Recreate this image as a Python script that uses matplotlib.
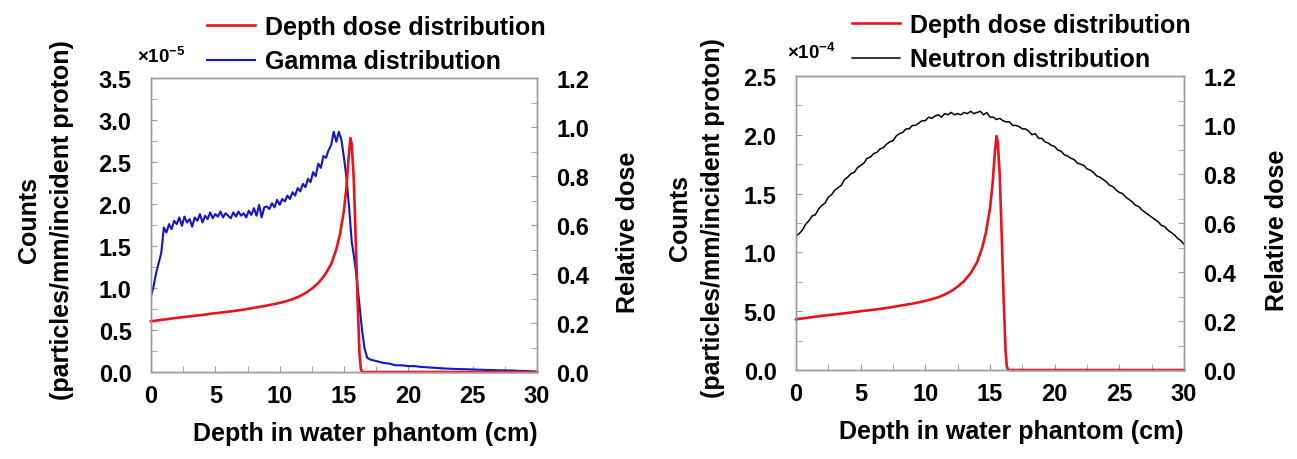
import numpy as np
import matplotlib.pyplot as plt
from matplotlib.ticker import MultipleLocator, FixedLocator, FixedFormatter

plt.rcParams['font.family'] = ['Liberation Sans', 'DejaVu Sans']
plt.rcParams['font.weight'] = 'bold'
plt.rcParams['axes.labelweight'] = 'bold'

# depth dose (relative dose), same curve in both panels
dose_x = [0, 1, 2, 3, 4, 5, 6, 7, 8, 9, 10, 10.5, 11, 11.5, 12, 12.5, 13, 13.5,
          14, 14.4, 14.7, 15.0, 15.2, 15.35, 15.5, 15.6, 15.75, 15.9, 16.05,
          16.2, 16.3, 16.4, 30]
dose_y = [0.207, 0.214, 0.221, 0.227, 0.233, 0.240, 0.246, 0.253, 0.262, 0.271,
          0.282, 0.289, 0.297, 0.308, 0.322, 0.340, 0.363, 0.395, 0.44, 0.50,
          0.565, 0.66, 0.76, 0.87, 0.955, 0.93, 0.80, 0.56, 0.30, 0.08, 0.015,
          0.0, 0.0]

# gamma counts (x1e-5 particles/mm/incident proton)
gamma_x = list(np.round(np.arange(0, 17.01, 0.2), 2)) + [
    17.5, 18, 18.5, 19, 19.5, 20, 20.5, 21, 21.5, 22, 22.5, 23, 24, 25, 26,
    27, 28, 29, 30]
gamma_y = [0.90, 1.02, 1.18, 1.30, 1.42, 1.72, 1.66, 1.76, 1.70, 1.80,
           1.76, 1.84, 1.74, 1.85, 1.78, 1.82, 1.73, 1.84, 1.80, 1.88,
           1.78, 1.86, 1.82, 1.90, 1.83, 1.88, 1.85, 1.91, 1.84, 1.89,
           1.86, 1.83, 1.90, 1.85, 1.91, 1.86, 1.89, 1.84, 1.92, 1.87,
           1.95, 1.86, 1.99, 1.84, 1.96, 1.97, 1.94, 2.01, 1.96, 2.05,
           1.99, 2.06, 2.03, 2.10, 2.06, 2.14, 2.10, 2.19, 2.15, 2.24,
           2.20, 2.30, 2.26, 2.38, 2.33, 2.48, 2.43, 2.57, 2.55, 2.64,
           2.70, 2.86, 2.74, 2.86, 2.76, 2.55, 2.30, 1.95, 1.55, 1.35,
           1.10, 0.80, 0.50, 0.28, 0.17, 0.15,
           0.13, 0.11, 0.10, 0.08, 0.08, 0.07, 0.07, 0.06, 0.055, 0.05,
           0.045, 0.04, 0.035, 0.03, 0.025, 0.02, 0.018, 0.012, 0.005]

# neutron counts (x1e-4 particles/mm/incident proton)
neutron_x = list(np.round(np.arange(0, 30.01, 0.25), 2))
neutron_y = [1.14, 1.16, 1.19, 1.24, 1.27, 1.31, 1.32, 1.37, 1.40, 1.42,
             1.47, 1.49, 1.53, 1.55, 1.57, 1.62, 1.64, 1.67, 1.68, 1.72,
             1.74, 1.76, 1.80, 1.81, 1.84, 1.85, 1.88, 1.89, 1.92, 1.94,
             1.95, 1.99, 2.01, 2.02, 2.05, 2.05, 2.08, 2.08, 2.10, 2.12,
             2.12, 2.15, 2.14, 2.16, 2.17, 2.15, 2.18, 2.17, 2.19, 2.17,
             2.18, 2.17, 2.19, 2.18, 2.20, 2.18, 2.19, 2.20, 2.17, 2.19,
             2.15, 2.15, 2.13, 2.14, 2.12, 2.11, 2.11, 2.08, 2.08, 2.07,
             2.05, 2.05, 2.03, 2.00, 2.01, 1.97, 1.97, 1.94, 1.93, 1.91,
             1.90, 1.87, 1.86, 1.83, 1.82, 1.80, 1.79, 1.76, 1.75, 1.74,
             1.71, 1.70, 1.68, 1.65, 1.64, 1.62, 1.60, 1.57, 1.56, 1.53,
             1.51, 1.50, 1.47, 1.45, 1.43, 1.40, 1.39, 1.36, 1.34, 1.32,
             1.30, 1.28, 1.26, 1.23, 1.22, 1.19, 1.17, 1.15, 1.12, 1.10,
             1.07]

left_ticks = [0, 0.5, 1, 1.5, 2, 2.5, 3, 3.5]
left_ticklabels = ['0.0', '0.5', '1.0', '1.5', '2.0', '2.5', '3.0', '3.5']
right_ticks = [0, 0.5, 1, 1.5, 2, 2.5]
right_ticklabels = ['0.0', '5.0', '1.0', '1.5', '2.0', '2.5']
dose_ticks = [0, 0.2, 0.4, 0.6, 0.8, 1.0, 1.2]
dose_ticklabels = ['0.0', '0.2', '0.4', '0.6', '0.8', '1.0', '1.2']

RED = '#e8141c'
BLUE = '#1414c8'
GRAY = '#9a9a9a'
FS = 18
TFS = 17

W, H = 1297, 460
fig = plt.figure(figsize=(W / 100, H / 100), dpi=100)


def setup(ax, axr, ymax, yticks, ylabels):
    ax.set_xlim(0, 30)
    ax.set_ylim(0, ymax)
    axr.set_ylim(0, 1.2)
    for a in (ax, axr):
        for s in a.spines.values():
            s.set_color(GRAY)
            s.set_linewidth(1)
    ax.xaxis.set_major_locator(MultipleLocator(5))
    ax.xaxis.set_minor_locator(MultipleLocator(2.5))
    ax.yaxis.set_major_locator(FixedLocator(yticks))
    ax.yaxis.set_major_formatter(FixedFormatter(ylabels))
    ax.yaxis.set_minor_locator(MultipleLocator(0.25))
    axr.yaxis.set_major_locator(FixedLocator(dose_ticks))
    axr.yaxis.set_major_formatter(FixedFormatter(dose_ticklabels))
    axr.yaxis.set_minor_locator(MultipleLocator(0.1))
    ax.tick_params(axis='x', which='both', direction='in', length=4,
                   color=GRAY, labelsize=TFS, pad=9, top=False)
    ax.tick_params(axis='y', which='both', direction='in', length=4,
                   color=GRAY, labelsize=TFS, pad=14, right=False)
    axr.tick_params(axis='y', which='both', direction='in', length=4,
                    color=GRAY, labelsize=TFS, pad=14)
    ax.set_xlabel('Depth in water phantom (cm)', fontsize=FS, x=0.555,
                  labelpad=10)
    ax.set_ylabel('Counts\n(particles/mm/incident proton)', fontsize=FS,
                  linespacing=1.45)
    axr.set_ylabel('Relative dose', fontsize=FS)


def legend(ax, handles, labels, y):
    ax.legend(handles, labels, loc='upper left', bbox_to_anchor=(0.145, y),
              frameon=False, fontsize=FS, borderpad=0, borderaxespad=0,
              handlelength=1.92, handletextpad=0.4, labelspacing=0.42)


# ---- left panel: gamma ----
ax1 = fig.add_axes([151 / W, 1 - 373 / H, 386 / W, 294 / H])
ax1r = ax1.twinx()
setup(ax1, ax1r, 3.5, left_ticks, left_ticklabels)
g, = ax1.plot(gamma_x, gamma_y, color=BLUE, lw=1.5)
d1, = ax1r.plot(dose_x, dose_y, color=RED, lw=1.9, clip_on=False)
ax1.yaxis.set_label_coords(-0.20, 0.52)
ax1r.yaxis.set_label_coords(1.205, 0.48)
legend(ax1, [d1, g], ['Depth dose distribution', 'Gamma distribution'], 1.215)
fig.text(137 / W, 1 - 57 / H, '×10$^{\\mathregular{-5}}$', fontsize=13.5,
         ha='left', va='center')

# ---- right panel: neutron ----
ax2 = fig.add_axes([796 / W, 1 - 371 / H, 388 / W, 294 / H])
ax2r = ax2.twinx()
setup(ax2, ax2r, 2.5, right_ticks, right_ticklabels)
n, = ax2.plot(neutron_x, neutron_y, color='black', lw=1.1)
d2, = ax2r.plot(dose_x, dose_y, color=RED, lw=1.9, clip_on=False)
ax2.yaxis.set_label_coords(-0.183, 0.52)
ax2r.yaxis.set_label_coords(1.209, 0.48)
legend(ax2, [d2, n], ['Depth dose distribution', 'Neutron distribution'], 1.215)
fig.text(787 / W, 1 - 53 / H, '×10$^{\\mathregular{-4}}$', fontsize=13.5,
         ha='left', va='center')

fig.savefig('out.png', dpi=100)
